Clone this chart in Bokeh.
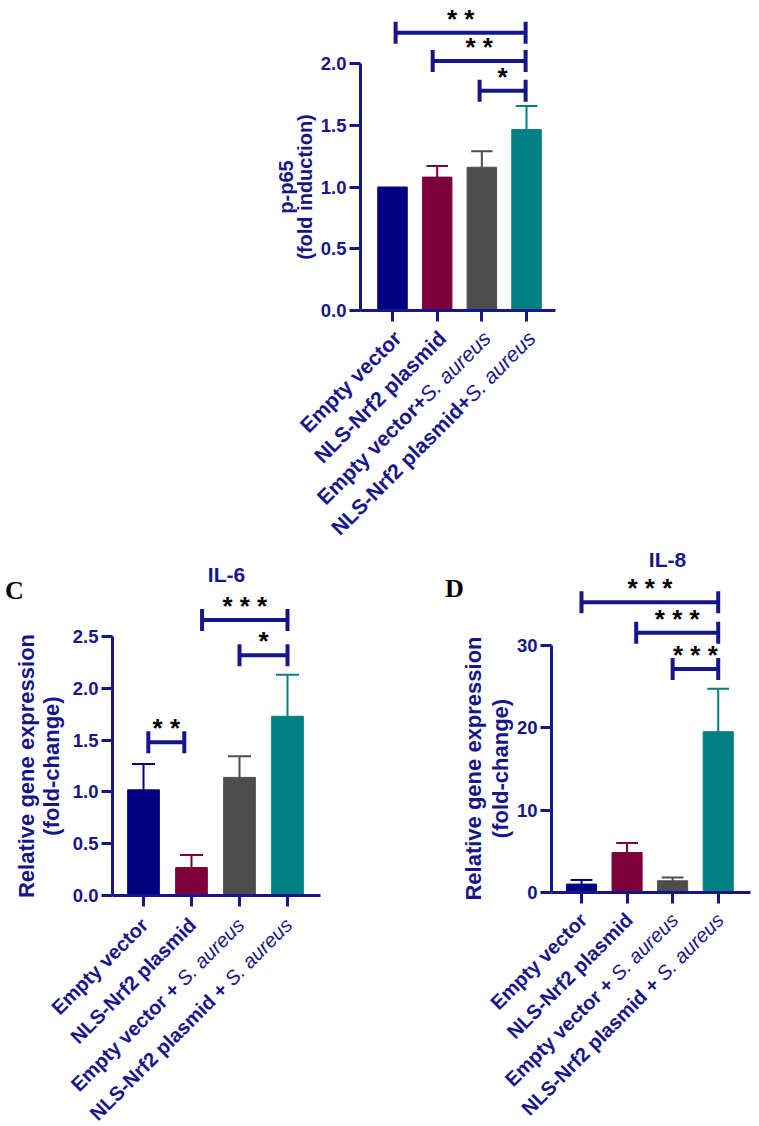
import math
from bokeh.plotting import figure
from bokeh.layouts import column, row
from bokeh.models import Range1d, Label, FixedTicker, NumeralTickFormatter, ColumnDataSource
from bokeh.embed import file_html
from bokeh.resources import INLINE
from bokeh.core.properties import value

# ---------------- data ----------------
groups = ["Empty vector", "NLS-Nrf2 plasmid", "Empty vector + S. aureus", "NLS-Nrf2 plasmid + S. aureus"]
bar_colors = ["#000080", "#7D0039", "#4D4D4D", "#008080"]

top_bold_labels = ["Empty vector", "NLS-Nrf2 plasmid", "Empty vector+", "NLS-Nrf2 plasmid+"]
bottom_bold_labels = ["Empty vector", "NLS-Nrf2 plasmid", "Empty vector +", "NLS-Nrf2 plasmid +"]
italic_labels = ["", "", "S. aureus", "S. aureus"]

p65_mean = [1.00, 1.08, 1.16, 1.465]
p65_err = [0.00, 0.09, 0.13, 0.19]
p65_ticks = [0.0, 0.5, 1.0, 1.5, 2.0]
p65_br_x1 = [0.07, 0.90, 1.95]
p65_br_x2 = [2.98, 2.98, 2.98]
p65_br_y = [2.25, 2.02, 1.78]
p65_stars = ["* *", "* *", "*"]

il6_mean = [1.02, 0.27, 1.14, 1.73]
il6_err = [0.25, 0.12, 0.205, 0.40]
il6_ticks = [0.0, 0.5, 1.0, 1.5, 2.0, 2.5]
il6_br_x1 = [0.10, 1.22, 2.00]
il6_br_x2 = [0.85, 3.00, 3.00]
il6_br_y = [1.48, 2.66, 2.32]
il6_stars = ["* *", "* * *", "*"]

il8_mean = [1.02, 4.85, 1.42, 19.5]
il8_err = [0.50, 1.15, 0.40, 5.2]
il8_ticks = [0, 10, 20, 30]
il8_br_x1 = [0.00, 1.20, 2.00]
il8_br_x2 = [3.00, 3.00, 3.00]
il8_br_y = [35.2, 31.5, 27.1]
il8_stars = ["* * *", "* * *", "* * *"]

# ---------------- style ----------------
NAVY = "#16168A"
FONT = "Liberation Sans"
ARIAL_W = {'S': 0.667, '.': 0.278, ' ': 0.278, 'a': 0.556, 'u': 0.556, 'r': 0.333, 'e': 0.556, 's': 0.5}


def text_width(s, size):
    return sum(ARIAL_W.get(c, 0.556) for c in s) * size


def make_panel(geo, mean, err, ticks, fmt, bx1, bx2, by, stars, bold_labels, title=None, letter=None):
    ox, oy = geo["origin"]
    w, h = geo["w"], geo["h"]
    fl, fr, fb = geo["fl"], geo["fr"], geo["fb"]
    bar0, step, unit = geo["bar0"], geo["step"], geo["unit"]

    def X(px):
        return (px - bar0) / step

    def Y(py):
        return (fb - py) / unit

    p = figure(width=w, height=h,
               x_range=Range1d(X(ox), X(ox + w)), y_range=Range1d(Y(oy + h), Y(oy)),
               output_backend="svg", toolbar_location=None,
               min_border_left=0, min_border_right=0, min_border_top=0, min_border_bottom=0)
    p.background_fill_color = "white"
    p.border_fill_color = "white"
    p.outline_line_color = None
    p.xgrid.visible = False
    p.ygrid.visible = False

    xs = list(range(len(groups)))
    src = ColumnDataSource(dict(x=xs, top=mean, color=bar_colors))
    p.vbar(x="x", top="top", bottom=0, width=0.66, fill_color="color", line_color="color", source=src)

    # error bars (upper only)
    ex = [x for x, e in zip(xs, err) if e > 0]
    em = [m for m, e in zip(mean, err) if e > 0]
    et = [m + e for m, e in zip(mean, err) if e > 0]
    ec = [c for c, e in zip(bar_colors, err) if e > 0]
    p.segment(x0=ex, y0=em, x1=ex, y1=et, line_color=ec, line_width=2)
    p.segment(x0=[x - 0.24 for x in ex], y0=et, x1=[x + 0.24 for x in ex], y1=et,
              line_color=ec, line_width=2)

    # significance brackets
    p.segment(x0=bx1, y0=by, x1=bx2, y1=by, line_color=NAVY, line_width=4, line_cap="butt")
    half = 11.0 / unit
    vx = list(bx1) + list(bx2)
    vy = list(by) + list(by)
    p.segment(x0=vx, y0=[y - half for y in vy], x1=vx, y1=[y + half for y in vy],
              line_color=NAVY, line_width=4, line_cap="butt")
    p.text(x=[(a + b) / 2 for a, b in zip(bx1, bx2)], y=[y + 14.0 / unit for y in by], text=stars,
           text_font=value(FONT), text_font_style="bold", text_font_size="26px",
           text_color="black", text_align="center", text_baseline="alphabetic")

    # axes (fixed inside the full-canvas frame)
    for ax in (p.xaxis[0], p.yaxis[0]):
        ax.axis_line_color = NAVY
        ax.axis_line_width = 3
        ax.major_tick_line_color = NAVY
        ax.major_tick_line_width = 3
        ax.major_tick_out = 11
        ax.major_tick_in = 0
        ax.minor_tick_line_color = None
    p.yaxis.fixed_location = X(fl)
    p.xaxis.fixed_location = 0
    p.yaxis.ticker = FixedTicker(ticks=ticks)
    p.yaxis.formatter = NumeralTickFormatter(format=fmt)
    p.yaxis.bounds = (0, ticks[-1])
    p.yaxis.major_label_text_font = FONT
    p.yaxis.major_label_text_font_style = "bold"
    p.yaxis.major_label_text_font_size = "18.5px"
    p.yaxis.major_label_text_color = NAVY
    p.yaxis.major_label_standoff = 3
    p.xaxis.ticker = FixedTicker(ticks=xs)
    p.xaxis.bounds = (X(fl), X(fr))
    p.xaxis.major_label_overrides = {x: "" for x in xs}
    p.xaxis.major_label_text_font_size = "0px"

    # category labels (rotated, bold + italic parts)
    cs = geo["cat_size"]
    for i, (b, it) in enumerate(zip(bold_labels, italic_labels)):
        ax_px = bar0 + i * step + geo["lab_dx"]
        ay_px = fb + geo["lab_dy"]
        if it:
            p.add_layout(Label(x=X(ax_px), y=Y(ay_px), text=it, text_font=FONT,
                               text_font_style="italic", text_font_size=f"{cs}px",
                               text_color=NAVY, angle=math.pi / 4,
                               text_align="right", text_baseline="middle"))
            wd = text_width(it, cs) + geo["gap"]
            ax_px -= wd / math.sqrt(2)
            ay_px += wd / math.sqrt(2)
        p.add_layout(Label(x=X(ax_px), y=Y(ay_px), text=b, text_font=FONT,
                           text_font_style="bold", text_font_size=f"{cs}px",
                           text_color=NAVY, angle=math.pi / 4,
                           text_align="right", text_baseline="middle"))

    # y axis label lines
    for line, lx in zip(geo["ylab"], geo["ylab_x"]):
        p.add_layout(Label(x=X(lx), y=Y(geo["ylab_cy"]), text=line, text_font=FONT,
                           text_font_style="bold", text_font_size=f"{geo['ylab_size']}px",
                           text_color=NAVY, angle=math.pi / 2,
                           text_align="center", text_baseline="middle"))
    if title:
        t, tx, ty = title
        p.add_layout(Label(x=X(tx), y=Y(ty), text=t, text_font=FONT, text_font_style="bold",
                           text_font_size="21px", text_color=NAVY,
                           text_align="center", text_baseline="middle"))
    if letter:
        t, tx, ty = letter
        p.add_layout(Label(x=X(tx), y=Y(ty), text=t, text_font="Liberation Serif",
                           text_font_style="bold", text_font_size="26px", text_color="black",
                           text_align="center", text_baseline="middle"))
    return p


geo_top = dict(origin=(0, 0), w=759, h=540, fl=360, fr=555, fb=310, bar0=392, step=44.67, unit=123.5,
               lab_dx=5, lab_dy=24, gap=0, cat_size=21,
               ylab=["p-p65", "(fold induction)"], ylab_x=[285, 304], ylab_cy=186.5, ylab_size=20)
geo_c = dict(origin=(0, 540), w=380, h=586, fl=112, fr=320, fb=895, bar0=143, step=48.0, unit=103.6,
             lab_dx=1, lab_dy=26, gap=5.6, cat_size=20,
             ylab=["Relative gene expression", "(fold-change)"], ylab_x=[26, 51], ylab_cy=765.5, ylab_size=22)
geo_d = dict(origin=(380, 540), w=379, h=586, fl=551, fr=750, fb=892, bar0=581, step=45.57, unit=8.247,
             lab_dx=2, lab_dy=24, gap=5.6, cat_size=20,
             ylab=["Relative gene expression", "(fold-change)"], ylab_x=[473, 500], ylab_cy=768, ylab_size=22)

p_top = make_panel(geo_top, p65_mean, p65_err, p65_ticks, "0.0",
                   p65_br_x1, p65_br_x2, p65_br_y, p65_stars, top_bold_labels)
p_c = make_panel(geo_c, il6_mean, il6_err, il6_ticks, "0.0",
                 il6_br_x1, il6_br_x2, il6_br_y, il6_stars, bottom_bold_labels,
                 title=("IL-6", 226, 574), letter=("C", 14, 590))
p_d = make_panel(geo_d, il8_mean, il8_err, il8_ticks, "0",
                 il8_br_x1, il8_br_x2, il8_br_y, il8_stars, bottom_bold_labels,
                 title=("IL-8", 667, 559), letter=("D", 454, 588))

p = column(p_top, row(p_c, p_d))
open("out.html", "w").write(file_html(p, INLINE))
